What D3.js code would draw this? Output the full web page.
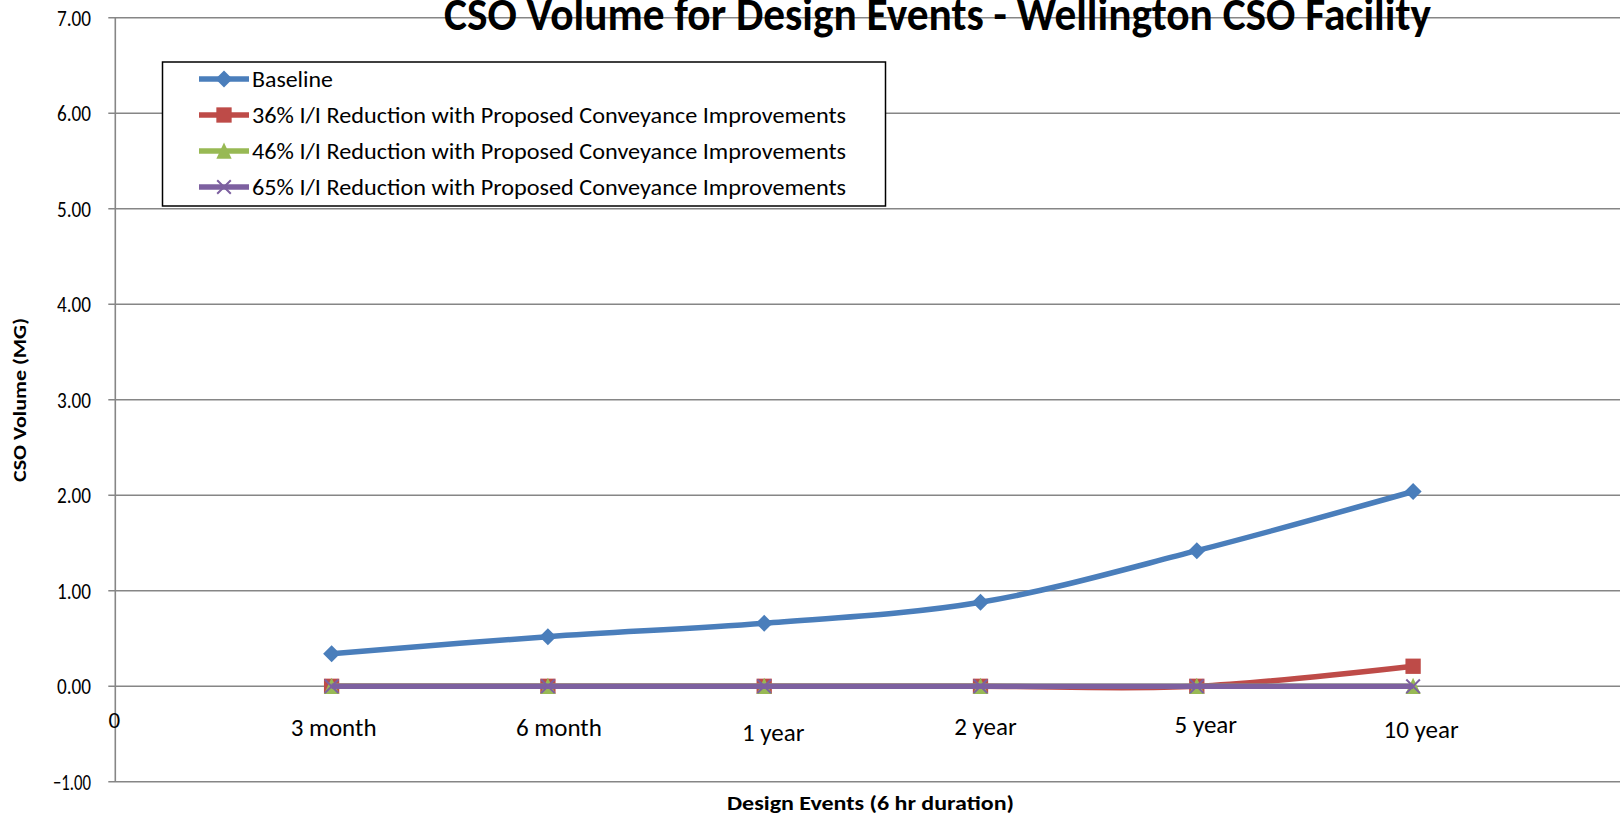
<!DOCTYPE html>
<html>
<head>
<meta charset="utf-8">
<script src="https://cdn.jsdelivr.net/npm/d3@7"></script>
<style>
  html, body { margin: 0; padding: 0; background: #fff; }
  svg { display: block; }
  text { font-family: Carlito, Calibri, Lato, "Open Sans", sans-serif; fill: #000; }
</style>
</head>
<body>
<svg id="chart" width="1620" height="815"></svg>
<script>
// ---- chart data ----
const categories = ["3 month", "6 month", "1 year", "2 year", "5 year", "10 year"];
const baseline   = [0.34, 0.52, 0.66, 0.88, 1.42, 2.04];
const reduct36   = [0, 0, 0, 0, 0, 0.21];
const reduct46   = [0, 0, 0, 0, 0, 0];
const reduct65   = [0, 0, 0, 0, 0, 0];
const yTicks     = [-1, 0, 1, 2, 3, 4, 5, 6, 7];
const seriesNames = [
  "Baseline",
  "36% I/I Reduction with Proposed Conveyance Improvements",
  "46% I/I Reduction with Proposed Conveyance Improvements",
  "65% I/I Reduction with Proposed Conveyance Improvements"
];
const chartTitle = "CSO Volume for Design Events - Wellington CSO Facility";
const xTitle = "Design Events (6 hr duration)";
const yTitle = "CSO Volume (MG)";

// ---- layout ----
const W = 1620, H = 815;
const svg = d3.select("#chart");
const x = d3.scaleLinear().domain([0, 7]).range([115.3, 1629.4]);
const y = d3.scaleLinear().domain([-1, 7]).range([781.8, 17.8]);
const gridColor = "#868686";

const styles = [
  { color: "#4A7EBB", marker: "diamond" },
  { color: "#BE4B48", marker: "square" },
  { color: "#98B954", marker: "triangle" },
  { color: "#7D60A0", marker: "cross" }
];
const seriesValues = [baseline, reduct36, reduct46, reduct65];

// shrink/stretch a text to a fixed drawn width
function fit(sel, width) {
  sel.attr("textLength", width).attr("lengthAdjust", "spacingAndGlyphs");
}

// ---- gridlines ----
svg.append("g").selectAll("line").data(yTicks).join("line")
  .attr("x1", x(0) - 7).attr("x2", W)
  .attr("y1", d => y(d)).attr("y2", d => y(d))
  .attr("stroke", gridColor).attr("stroke-width", 1.6);

// value axis line
svg.append("line")
  .attr("x1", x(0)).attr("x2", x(0))
  .attr("y1", y(7)).attr("y2", y(-1))
  .attr("stroke", gridColor).attr("stroke-width", 1.6);

// value axis labels
svg.append("g").selectAll("text").data(yTicks).join("text")
  .attr("x", 91).attr("y", d => y(d))
  .attr("text-anchor", "end").attr("dominant-baseline", "central")
  .style("font-size", "23px")
  .text(d => d3.format(".2f")(d))
  .each(function (d) { fit(d3.select(this), d < 0 ? 38 : 34); });

// "0" label at the origin
svg.append("text")
  .attr("x", x(0) - 1).attr("y", 720)
  .attr("text-anchor", "middle").attr("dominant-baseline", "central")
  .style("font-size", "23px").text("0");

// category labels (small nudges keep each label where it sits on the sheet)
const catLabelNudge = [[2, 41], [11, 41], [9, 46], [5, 40], [9, 38], [8, 43]];
svg.append("g").selectAll("text").data(categories).join("text")
  .attr("x", (d, i) => x(i + 1) + catLabelNudge[i][0])
  .attr("y", (d, i) => y(0) + catLabelNudge[i][1])
  .attr("text-anchor", "middle").attr("dominant-baseline", "central")
  .style("font-size", "25px")
  .text(d => d);

// ---- markers ----
function drawMarker(g, type, color, size) {
  const s = size / 2;
  if (type === "diamond") {
    g.append("path").attr("d", `M0,${-s}L${s},0L0,${s}L${-s},0Z`).attr("fill", color);
  } else if (type === "square") {
    g.append("rect").attr("x", -s * 0.9).attr("y", -s * 0.9)
      .attr("width", s * 1.8).attr("height", s * 1.8).attr("fill", color);
  } else if (type === "triangle") {
    g.append("path").attr("d", `M0,${-s}L${s * 0.9},${s * 0.9}L${-s * 0.9},${s * 0.9}Z`).attr("fill", color);
  } else {
    g.append("path").attr("d", `M${-s * 0.8},${-s * 0.8}L${s * 0.8},${s * 0.8}M${s * 0.8},${-s * 0.8}L${-s * 0.8},${s * 0.8}`)
      .attr("stroke", color).attr("stroke-width", 2).attr("fill", "none");
  }
}

// ---- series lines ----
const line = d3.line()
  .x((d, i) => x(i + 1))
  .y(d => y(d))
  .curve(d3.curveCatmullRom.alpha(0));

seriesValues.forEach((vals, k) => {
  const g = svg.append("g");
  g.append("path").datum(vals)
    .attr("d", line)
    .attr("fill", "none")
    .attr("stroke", styles[k].color)
    .attr("stroke-width", 5.5)
    .attr("stroke-linejoin", "round");
  vals.forEach((v, i) => {
    const m = g.append("g").attr("transform", `translate(${x(i + 1)},${y(v)})`);
    drawMarker(m, styles[k].marker, styles[k].color, 17);
  });
});

// ---- legend ----
const lg = svg.append("g");
lg.append("rect")
  .attr("x", 162.5).attr("y", 62).attr("width", 723).attr("height", 144)
  .attr("fill", "#fff").attr("stroke", "#000").attr("stroke-width", 1.5);
const legendRowY = [79, 115, 151, 187];
seriesNames.forEach((name, k) => {
  const ry = legendRowY[k];
  lg.append("line").attr("x1", 199).attr("x2", 249).attr("y1", ry).attr("y2", ry)
    .attr("stroke", styles[k].color).attr("stroke-width", 5.5);
  const m = lg.append("g").attr("transform", `translate(224,${ry})`);
  drawMarker(m, styles[k].marker, styles[k].color, 17);
  const t = lg.append("text").attr("x", 252).attr("y", ry)
    .attr("dominant-baseline", "central")
    .style("font-size", "23px").text(name);
  fit(t, k === 0 ? 81 : 594);
});

// ---- titles ----
const tt = svg.append("text")
  .attr("x", 937.5).attr("y", 30)
  .attr("text-anchor", "middle")
  .style("font-size", "46px").style("font-weight", "bold")
  .text(chartTitle);
fit(tt, 987);

const xt = svg.append("text")
  .attr("x", 870.5).attr("y", 803)
  .attr("text-anchor", "middle").attr("dominant-baseline", "central")
  .style("font-size", "20px").style("font-weight", "bold")
  .text(xTitle);
fit(xt, 287);

const yt = svg.append("text")
  .attr("transform", "translate(19,400) rotate(-90)")
  .attr("text-anchor", "middle").attr("dominant-baseline", "central")
  .style("font-size", "19px").style("font-weight", "bold")
  .text(yTitle);
fit(yt, 164);
</script>
</body>
</html>
